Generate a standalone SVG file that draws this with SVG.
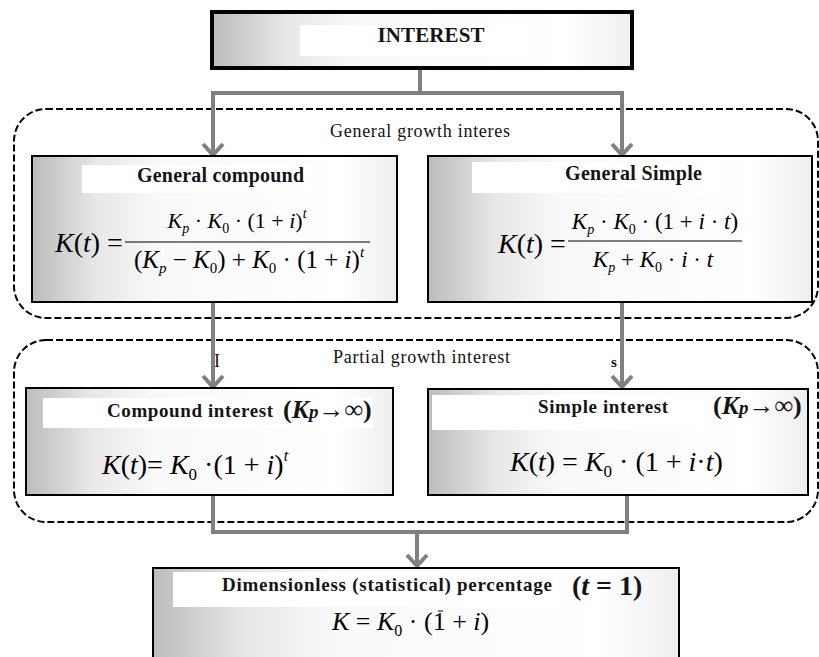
<svg xmlns="http://www.w3.org/2000/svg" width="819" height="657" viewBox="0 0 819 657">
<defs>
<linearGradient id="g" x1="0" y1="0" x2="1" y2="0">
<stop offset="0" stop-color="#bcbcbc"/>
<stop offset="0.18" stop-color="#e8e8e8"/>
<stop offset="0.35" stop-color="#f9f9f9"/>
<stop offset="0.85" stop-color="#ffffff"/>
<stop offset="1" stop-color="#eeeeee"/>
</linearGradient>
<marker id="ah" markerUnits="userSpaceOnUse" viewBox="-14 -12 16 24" markerWidth="16" markerHeight="24" refX="0" refY="0" orient="auto" overflow="visible">
<path d="M-11,-10 L0,0 L-11,10" fill="none" stroke="#808080" stroke-width="4"/>
</marker>
</defs>
<style>
.box{fill:url(#g);stroke:#000;stroke-width:2}
.wt{fill:#fff}
.title{font-family:"Liberation Serif","Times New Roman",serif;font-weight:bold;fill:#151515}
.lbl{font-family:"Liberation Serif","Times New Roman",serif;fill:#111}
.math{font-family:"Liberation Serif","Times New Roman",serif;fill:#000}
.it{font-style:italic}
.conn{fill:none;stroke:#808080;stroke-width:4}
.region{fill:none;stroke:#000;stroke-width:2;stroke-dasharray:7 3}
.bar{stroke:#000;stroke-width:1.2}
</style>

<g id="regions">
<rect class="region" x="14" y="109" width="804" height="209" rx="32"/>
<text class="lbl" x="330" y="137" font-size="18" textLength="180">General growth interes</text>
<rect class="region" x="14" y="340" width="804" height="182" rx="32"/>
<text class="lbl" x="333" y="363" font-size="18" textLength="177">Partial growth interest</text>
</g>

<g id="connectors">
<path class="conn" d="M420,70 V93 H213 V155" marker-end="url(#ah)"/>
<path class="conn" d="M420,93 H622 V155" marker-end="url(#ah)"/>
<path class="conn" d="M213,303 V387" marker-end="url(#ah)"/>
<path class="conn" d="M622,303 V387" marker-end="url(#ah)"/>
<path class="conn" d="M213,496 V532 H627 V496"/>
<path class="conn" d="M417,532 V566" marker-end="url(#ah)"/>
<text class="lbl" x="214" y="367" font-size="18">I</text>
<text class="lbl" x="611" y="367" font-weight="bold" font-size="15">s</text>
</g>

<g id="interest">
<rect x="212" y="12" width="420" height="56" fill="url(#g)" stroke="#000" stroke-width="4"/>
<rect class="wt" x="300" y="25" width="230" height="31"/>
<text class="title" x="431" y="42" text-anchor="middle" font-size="21" textLength="107">INTEREST</text>
</g>

<g id="general-compound">
<rect class="box" x="32" y="156" width="365" height="146"/>
<rect class="wt" x="82" y="165" width="230" height="28"/>
<text class="title" x="137" y="182" font-size="20" textLength="167">General compound</text>
<text class="math" x="55" y="252" font-size="28" xml:space="preserve"><tspan class="it">K</tspan>(<tspan class="it">t</tspan>) =</text>
<text class="math" x="237" y="228" text-anchor="middle" font-size="22" xml:space="preserve"><tspan class="it">K</tspan><tspan class="it" font-size="14" dy="5">p</tspan><tspan dy="-5"> · </tspan><tspan class="it">K</tspan><tspan font-size="14" dy="5">0</tspan><tspan dy="-5"> · (1 + </tspan><tspan class="it">i</tspan>)<tspan class="it" font-size="14" dy="-10">t</tspan></text>
<line class="bar" x1="125" y1="242" x2="370" y2="242"/>
<text class="math" x="249" y="268" text-anchor="middle" xml:space="preserve" font-size="25">(<tspan class="it">K</tspan><tspan class="it" font-size="15" dy="5">p</tspan><tspan dy="-5"> − </tspan><tspan class="it">K</tspan><tspan font-size="15" dy="5">0</tspan><tspan dy="-5">) + </tspan><tspan class="it">K</tspan><tspan font-size="15" dy="5">0</tspan><tspan dy="-5"> · (1 + </tspan><tspan class="it">i</tspan>)<tspan class="it" font-size="15" dy="-11">t</tspan></text>
</g>

<g id="general-simple">
<rect class="box" x="428" y="156" width="384" height="146"/>
<rect class="wt" x="472" y="162" width="250" height="31"/>
<text class="title" x="565" y="180" font-size="20" textLength="137">General Simple</text>
<text class="math" x="498" y="253" font-size="28" xml:space="preserve"><tspan class="it">K</tspan>(<tspan class="it">t</tspan>) =</text>
<text class="math" x="655" y="229" text-anchor="middle" font-size="23" xml:space="preserve"><tspan class="it">K</tspan><tspan class="it" font-size="14" dy="5">p</tspan><tspan dy="-5"> · </tspan><tspan class="it">K</tspan><tspan font-size="14" dy="5">0</tspan><tspan dy="-5"> · (1 + </tspan><tspan class="it">i</tspan> · <tspan class="it">t</tspan>)</text>
<line class="bar" x1="568" y1="241" x2="742" y2="241"/>
<text class="math" x="653" y="267" text-anchor="middle" font-size="23" xml:space="preserve"><tspan class="it">K</tspan><tspan class="it" font-size="14" dy="5">p</tspan><tspan dy="-5"> + </tspan><tspan class="it">K</tspan><tspan font-size="14" dy="5">0</tspan><tspan dy="-5"> · </tspan><tspan class="it">i</tspan> · <tspan class="it">t</tspan></text>
</g>

<g id="compound-interest">
<rect class="box" x="26" y="388" width="367" height="107"/>
<rect class="wt" x="43" y="398" width="330" height="30"/>
<text class="title" x="107" y="417" font-size="19" textLength="166">Compound interest</text>
<text class="title" x="283" y="418" font-size="26">(<tspan class="it">K</tspan><tspan class="it" font-size="19">p</tspan>→∞)</text>
<text class="math" x="102" y="474" font-size="28" xml:space="preserve"><tspan class="it">K</tspan>(<tspan class="it">t</tspan>)= <tspan class="it">K</tspan><tspan font-size="17" dy="6">0</tspan><tspan dy="-6"> ·(1 + </tspan><tspan class="it">i</tspan>)<tspan class="it" font-size="16" dy="-13">t</tspan></text>
</g>

<g id="simple-interest">
<rect class="box" x="428" y="389" width="380" height="106"/>
<rect class="wt" x="432" y="395" width="273" height="35"/>
<text class="title" x="538" y="413" font-size="19" textLength="130">Simple interest</text>
<text class="title" x="713" y="414" font-size="26">(<tspan class="it">K</tspan><tspan class="it" font-size="19">p</tspan>→∞)</text>
<text class="math" x="510" y="471" font-size="28" xml:space="preserve"><tspan class="it">K</tspan>(<tspan class="it">t</tspan>) = <tspan class="it">K</tspan><tspan font-size="17" dy="6">0</tspan><tspan dy="-6"> · (1 + </tspan><tspan class="it">i</tspan>·<tspan class="it">t</tspan>)</text>
</g>

<g id="dimensionless">
<rect class="box" x="153" y="568" width="526" height="100"/>
<rect class="wt" x="173" y="572" width="385" height="35"/>
<text class="title" x="222" y="591" font-size="19" textLength="330">Dimensionless (statistical) percentage</text>
<text class="title" x="572" y="595" font-size="28">(<tspan class="it">t</tspan> = 1)</text>
<text class="math" x="332" y="630" font-size="26" xml:space="preserve"><tspan class="it">K</tspan> = <tspan class="it">K</tspan><tspan font-size="16" dy="6">0</tspan><tspan dy="-6"> · (1 + </tspan><tspan class="it">i</tspan>)</text>
<line x1="438" y1="611" x2="443" y2="611" stroke="#000" stroke-width="1"/>
</g>
</svg>
